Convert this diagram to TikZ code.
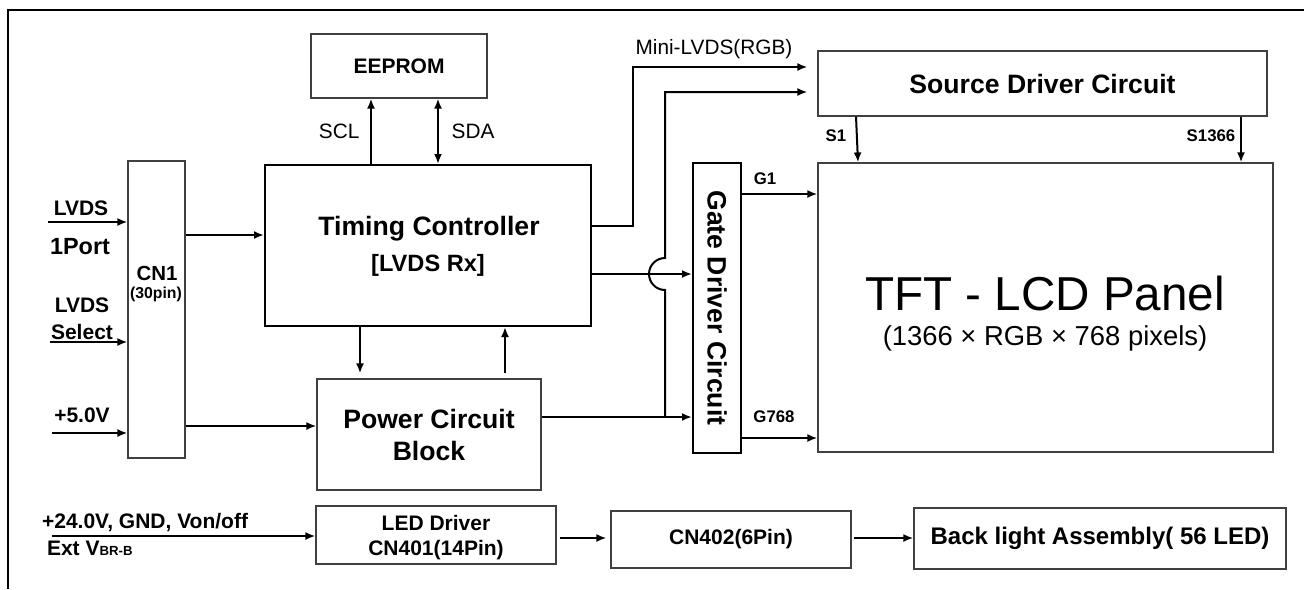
\documentclass[tikz,border=0pt]{standalone}
\usepackage{fontspec}
\setmainfont{Liberation Sans}
\usetikzlibrary{arrows.meta, positioning, calc}

\tikzset{
  blk/.style={draw=black!75, line width=0.6pt, inner sep=0pt, align=center},
  blkb/.style={draw=black, line width=1pt, inner sep=0pt, align=center},
  wire/.style={line width=1pt},
  bigb/.style={font=\fontsize{13.3}{16}\selectfont\bfseries},
  midb/.style={font=\fontsize{10.5}{13.5}\selectfont\bfseries},
  smlb/.style={font=\fontsize{8.4}{10}\selectfont\bfseries},
  reg/.style={font=\fontsize{10.4}{12}\selectfont},
}

\begin{document}
\begin{tikzpicture}[x=0.5pt, y=-0.5pt, >={Latex[length=5pt,width=4pt]}]
  \useasboundingbox (0,0) rectangle (1304,589);
  % frame (cut at right and bottom)
  \draw[line width=1pt] (8,589) -- (8,10) -- (1304,10);

  % blocks
  \node[blk, minimum width=88pt, minimum height=32pt, midb] (ee) at (399,66) {EEPROM};
  \node[blkb, minimum width=163pt, minimum height=80.5pt] (tc) at (428,245.5) {};
  \node[bigb] at (429,229) {Timing Controller};
  \node[font=\fontsize{11.8}{14}\selectfont\bfseries] at (428,265) {[LVDS Rx]};
  \node[blk, minimum width=28.5pt, minimum height=148.5pt] (cn) at (156.5,309.5) {};
  \node[font=\fontsize{10.2}{12}\selectfont\bfseries] at (157,273) {CN1};
  \node[font=\fontsize{7.9}{9}\selectfont\bfseries] at (156,294) {(30pin)};
  \node[blk, minimum width=112pt, minimum height=55.5pt, bigb] (pw) at (429,434.5)
    {Power Circuit\\Block};
  \node[blkb, minimum width=24pt, minimum height=145pt] (gd) at (717,308) {};
  \node[bigb, rotate=-90] at (gd.center) {Gate Driver Circuit};
  \node[blk, minimum width=224.5pt, minimum height=32.5pt, bigb] (sd) at (1042.5,83.5)
    {Source Driver Circuit};
  \node[blk, minimum width=227.5pt, minimum height=144.5pt] (tft) at (1045.5,307.5) {};
  \node[font=\fontsize{23.8}{28}\selectfont] at (1045,293) {TFT - LCD Panel};
  \node[font=\fontsize{13.7}{16}\selectfont] at (1045,338) {(1366 × RGB × 768 pixels)};
  \node[blk, minimum width=120pt, minimum height=29pt] (led) at (436,535) {};
  \node[midb] at (436,523) {LED Driver};
  \node[midb] at (436,550) {CN401(14Pin)};
  \node[blk, minimum width=120pt, minimum height=28.5pt, midb] (cn2) at (731,539.5)
    {CN402(6Pin)};
  \node[blk, minimum width=186pt, minimum height=30.5pt, font=\fontsize{12}{14}\selectfont\bfseries]
    (bl) at (1100,538.5) {Back light Assembly( 56 LED)};

  % inputs to CN1
  \coordinate (lvds) at (48,222);
  \coordinate (sel) at (50,342);
  \coordinate (vin) at (52,433);
  \draw[wire,->] (lvds) -- (cn.west |- lvds);
  \draw[wire,->] (sel) -- (cn.west |- sel);
  \draw[wire,->] (vin) -- (cn.west |- vin);
  \node[midb] at (81,208) {LVDS};
  \node[font=\fontsize{11.7}{14}\selectfont\bfseries] at (80,247) {1Port};
  \node[midb] at (82,305) {LVDS};
  \node[midb] at (82,332) {Select};
  \node[midb] at (82,415) {+5.0V};

  % CN1 outputs
  \draw[wire,->] (cn.east |- 0,235) -- (tc.west |- 0,235);
  \draw[wire,->] (cn.east |- 0,426) -- (pw.west |- 0,426);

  % EEPROM bus
  \draw[wire,->] (tc.north -| 371,0) -- (ee.south -| 371,0)
    node[midway, left=2pt, reg] {SCL};
  \draw[wire,<->] (ee.south -| 438,0) -- (tc.north -| 438,0)
    node[midway, right=3pt, reg] {SDA};

  % Timing controller <-> power
  \draw[wire,->,shorten >=2.5pt] (tc.south -| 360,0) -- (pw.north -| 360,0);
  \draw[wire,->,shorten <=2.5pt] (pw.north -| 505,0) -- (tc.south -| 505,0);

  % Mini-LVDS to source driver
  \draw[wire,->,shorten >=5pt] (tc.east |- 0,226) -- (633,226) -- (633,67) -- (sd.west |- 0,67);
  \node[reg] at (714,49) {Mini-LVDS(RGB)};
  \coordinate (jn) at (665,417);
  \draw[wire,->] (pw.east |- jn) -- (gd.west |- jn);
  \draw[wire,->,shorten >=5pt] (jn) -- (665,290)
    arc[start angle=270, end angle=90, radius=8pt] -- (665,92) -- (sd.west |- 0,92);
  \draw[wire,->] (tc.east |- 0,274) -- (gd.west |- 0,274);

  % source driver -> panel
  \draw[wire,->] (sd.south -| 856,0) -- (tft.north -| 858,0);
  \draw[wire,->] (sd.south -| 1241,0) -- (tft.north -| 1241,0);
  \node[smlb] at (836,136) {S1};
  \node[smlb] at (1211,136) {S1366};

  % gate driver -> panel
  \draw[wire,->] (gd.east |- 0,194) -- (tft.west |- 0,194);
  \draw[wire,->] (gd.east |- 0,438) -- (tft.west |- 0,438);
  \node[smlb] at (765,179) {G1};
  \node[smlb] at (774,417) {G768};

  % backlight chain
  \coordinate (bin) at (52,536);
  \draw[wire,->] (bin) -- (led.west |- bin);
  \node[midb, anchor=west] at (35,523) {+24.0V, GND, Von/off};
  \node[midb, anchor=west] at (40,548) {Ext V{\fontsize{6.6}{8}\selectfont BR-B}};
  \draw[wire,->,shorten <=1.5pt,shorten >=2pt] (led.east |- 0,538) -- (cn2.west |- 0,538);
  \draw[wire,->,shorten <=1pt] (cn2.east |- 0,538) -- (bl.west |- 0,538);
\end{tikzpicture}
\end{document}
